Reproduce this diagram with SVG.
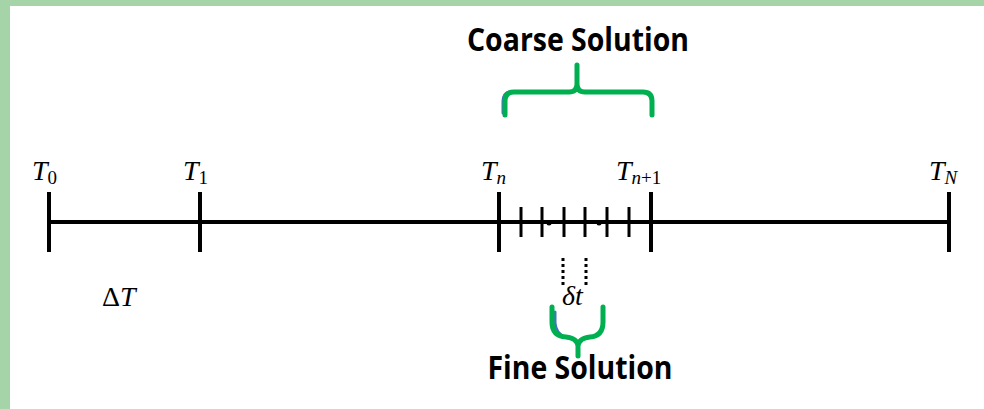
<svg xmlns="http://www.w3.org/2000/svg" width="984" height="409" viewBox="0 0 984 409">
<style>
.m{font-family:"Liberation Serif","DejaVu Serif",serif;font-size:28px;fill:#000}
.i{font-style:italic}
.s{font-size:19px;font-style:normal}
.si{font-size:19px;font-style:italic}
.lbl{font-family:"Open Sans","Noto Sans",sans-serif;font-weight:bold;font-size:33px;fill:#000}
.ax{stroke:#000;stroke-width:4;fill:none}
.tk{stroke:#000;stroke-width:4}
.ft{stroke:#000;stroke-width:3}
.br{fill:none;stroke:#00b050;stroke-width:5;stroke-linecap:round;stroke-linejoin:round}
.bs{fill:none;stroke:#4472c4;stroke-width:3;stroke-linecap:round}
.dot{stroke:#000;stroke-width:3;stroke-dasharray:3 3}
</style>
<rect width="984" height="409" fill="#a5d4a9"/>
<rect x="10" y="6" width="974" height="403" fill="#fff"/>
<g id="connectors">
<line class="ax" x1="49" y1="222" x2="949" y2="222"/>
</g>
<g id="T0"><line class="tk" x1="49" y1="192" x2="49" y2="252"/>
<text class="m" x="32" y="180"><tspan class="i">T</tspan><tspan class="s" dy="4">0</tspan></text></g>
<g id="T1"><line class="tk" x1="200" y1="192" x2="200" y2="252"/>
<text class="m" x="183" y="180"><tspan class="i">T</tspan><tspan class="s" dy="4">1</tspan></text></g>
<g id="Tn"><line class="tk" x1="499" y1="192" x2="499" y2="252"/>
<text class="m" x="481" y="180"><tspan class="i">T</tspan><tspan class="si" dy="4">n</tspan></text></g>
<g id="Tn1"><line class="tk" x1="651" y1="192" x2="651" y2="252"/>
<text class="m" x="616" y="180"><tspan class="i">T</tspan><tspan class="si" dy="4">n</tspan><tspan class="s">+1</tspan></text></g>
<g id="TN"><line class="tk" x1="949" y1="192" x2="949" y2="252"/>
<text class="m" x="929" y="180"><tspan class="i">T</tspan><tspan class="si" dy="4">N</tspan></text></g>
<g id="fine-ticks">
<line class="ft" x1="521" y1="207" x2="521" y2="237"/>
<line class="ft" x1="542" y1="207" x2="542" y2="237"/>
<line class="ft" x1="564" y1="207" x2="564" y2="237"/>
<line class="ft" x1="585" y1="207" x2="585" y2="237"/>
<line class="ft" x1="607" y1="207" x2="607" y2="237"/>
<line class="ft" x1="629" y1="207" x2="629" y2="237"/>
<circle cx="549" cy="223" r="2.5"/>
<circle cx="599" cy="223" r="2.5"/>
</g>
<g id="deltaT"><text class="m" x="102" y="306">Δ<tspan class="i">T</tspan></text></g>
<g id="deltat">
<line class="dot" x1="563" y1="258" x2="563" y2="286"/>
<line class="dot" x1="586" y1="258" x2="586" y2="286"/>
<text class="m i" x="562" y="305">δt</text></g>
<g id="coarse">
<path class="bs" d="M503,113 L503,101 Q503,94 509,92"/>
<path class="br" d="M505,115 L505,101 Q505,92 514,92 L569,92 Q577,92 577,84 L577,65 M577,84 Q577,92 585,92 L643,92 Q652,92 652,101 L652,115"/>
<text class="lbl" x="578" y="51" text-anchor="middle" textLength="222" lengthAdjust="spacingAndGlyphs">Coarse Solution</text>
</g>
<g id="fine">
<path class="bs" d="M555,312 L555,323 Q556,334 565,337"/>
<path class="br" d="M552,307 L552,322 Q552,336 566,337 Q577,338 578,346 L578,356 M603,307 L603,322 Q603,336 590,337 Q579,338 578,346"/>
<text class="lbl" x="580" y="379" text-anchor="middle" textLength="185" lengthAdjust="spacingAndGlyphs">Fine Solution</text>
</g>
</svg>
